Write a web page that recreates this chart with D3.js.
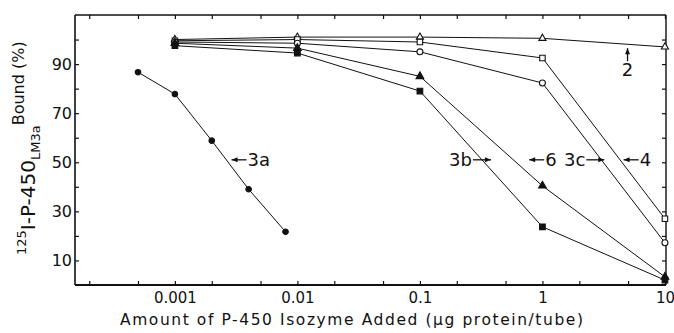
<html>
<head>
  <script src="https://cdn.jsdelivr.net/npm/d3@7"></script>
  <style>
    body { margin: 0; background: #fff; }
    text { font-family: "DejaVu Sans", sans-serif; fill: #111; }
  </style>
</head>
<body>
 <div id="content"></div>
  <script>
    // amounts added (ug protein/tube)
    const doses = [0.001, 0.01, 0.1, 1, 10]
    const doses3a = [0.0005, 0.001, 0.002, 0.004, 0.008]

    // % bound
    const bound2  = [100, 101, 101, 100.5, 97]
    const bound4  = [99.5, 100, 99, 92.5, 27]
    const bound3c = [99, 98.5, 95, 82.3, 17.2]
    const bound6  = [98.5, 96.5, 85, 40.4, 3.3]
    const bound3b = [97.5, 94.5, 79, 23.7, 2]
    const bound3a = [86.7, 77.8, 58.8, 39, 21.7]

    const xTicks = [0.0002, 0.0005, 0.001, 0.002, 0.005, 0.01, 0.02, 0.05, 0.1, 0.2, 0.5, 1, 2, 5, 10]
    const xTickLabels = ["0.001", "0.01", "0.1", "1", "10"]
    const yTicks = [10, 20, 30, 40, 50, 60, 70, 80, 90, 100]
    const yTickLabels = [10, 30, 50, 70, 90]

    // label, arrow tip (x, y in data units), arrow direction
    const curveLabels = [
      {text: "3a", x: 0.0029, y: 51, dir: "left"},
      {text: "3b", x: 0.38, y: 51, dir: "right"},
      {text: "6",  x: 0.78, y: 51, dir: "left"},
      {text: "3c", x: 3.2, y: 51, dir: "right"},
      {text: "4",  x: 4.6, y: 51, dir: "left"},
      {text: "2",  x: 4.95, y: 96.5, dir: "up"}
    ]

    width = 674
    height = 333
    margin = {top: 15, right: 8, bottom: 48, left: 75}

    const svg = d3.select("#content").append("svg")
      .attr("width", width).attr("height", height)

    x = d3.scaleLog()
      .domain([0.000153, 10.2])
      .range([margin.left, width - margin.right])
    y = d3.scaleLinear()
      .domain([0, 110])
      .range([height - margin.bottom, margin.top])

    const x0 = x.range()[0], x1 = x.range()[1]
    const y0 = y.range()[0], y1 = y.range()[1]

    // axes, ticks pointing into the plot
    svg.append("g")
      .attr("transform", `translate(0,${y0})`)
      .call(d3.axisBottom(x).tickValues(xTicks).tickSize(-4).tickPadding(7)
        .tickFormat(d => { const i = doses.indexOf(d); return i >= 0 ? xTickLabels[i] : "" }))
      .call(g => g.select(".domain").remove())
      .call(g => g.selectAll("text").attr("font-size", 15))
    svg.append("g")
      .attr("transform", `translate(0,${y1})`)
      .call(d3.axisTop(x).tickValues(xTicks).tickSize(-4).tickFormat(""))
      .call(g => g.select(".domain").remove())
    svg.append("g")
      .attr("transform", `translate(${x0},0)`)
      .call(d3.axisLeft(y).tickValues(yTicks).tickSize(-4).tickPadding(3)
        .tickFormat(d => yTickLabels.includes(d) ? d : ""))
      .call(g => g.select(".domain").remove())
      .call(g => g.selectAll("text").attr("font-size", 16))
    svg.append("g")
      .attr("transform", `translate(${x1},0)`)
      .call(d3.axisRight(y).tickValues(yTicks).tickSize(-4).tickFormat(""))
      .call(g => g.select(".domain").remove())
    svg.selectAll(".tick line").attr("stroke", "#111").attr("stroke-width", 1.2)

    // frame
    const frame = svg.append("g").attr("stroke", "#111").attr("fill", "none")
    frame.append("line").attr("x1", x0).attr("x2", x1).attr("y1", y0).attr("y2", y0).attr("stroke-width", 2)
    frame.append("line").attr("x1", x0).attr("x2", x1).attr("y1", y1).attr("y2", y1).attr("stroke-width", 1.4)
    frame.append("line").attr("x1", x0).attr("x2", x0).attr("y1", y1).attr("y2", y0).attr("stroke-width", 1.6)
    frame.append("line").attr("x1", x1).attr("x2", x1).attr("y1", y1).attr("y2", y0).attr("stroke-width", 1.4)

    const series = [
      {xs: doses, ys: bound2,  sym: d3.symbolTriangle, size: 22, filled: false},
      {xs: doses, ys: bound4,  sym: d3.symbolSquare,   size: 30, filled: false},
      {xs: doses, ys: bound3c, sym: d3.symbolCircle,   size: 28, filled: false},
      {xs: doses, ys: bound6,  sym: d3.symbolTriangle, size: 26, filled: true},
      {xs: doses, ys: bound3b, sym: d3.symbolSquare,   size: 32, filled: true},
      {xs: doses3a, ys: bound3a, sym: d3.symbolCircle, size: 24, filled: true}
    ]

    const line = d3.line().x(d => x(d[0])).y(d => y(d[1]))

    series.forEach(s => {
      const pts = s.xs.map((v, i) => [v, s.ys[i]])
      svg.append("path")
        .attr("d", line(pts))
        .attr("fill", "none")
        .attr("stroke", "#111")
        .attr("stroke-width", 1)
      svg.append("g").selectAll("path")
        .data(pts)
        .join("path")
        .attr("transform", d => `translate(${x(d[0])},${y(d[1])})`)
        .attr("d", d3.symbol().type(s.sym).size(s.size))
        .attr("fill", s.filled ? "#111" : "#fff")
        .attr("stroke", "#111")
        .attr("stroke-width", 1.1)
    })

    // curve labels with arrows
    const ann = svg.append("g")
    curveLabels.forEach(l => {
      const px = x(l.x), py = y(l.y)
      let tail, head, tx, ty, anchor
      if (l.dir == "left") {
        tail = [px + 15, py]; head = [[px, py], [px + 6, py - 2.5], [px + 6, py + 2.5]]
        tx = px + 16; ty = py + 6.5; anchor = "start"
      } else if (l.dir == "right") {
        tail = [px - 18, py]; head = [[px, py], [px - 6, py - 2.5], [px - 6, py + 2.5]]
        tx = px - 19; ty = py + 6.5; anchor = "end"
      } else {
        tail = [px, py + 13]; head = [[px, py], [px - 2.5, py + 6], [px + 2.5, py + 6]]
        tx = px; ty = py + 28; anchor = "middle"
      }
      ann.append("line")
        .attr("x1", tail[0]).attr("y1", tail[1]).attr("x2", px).attr("y2", py)
        .attr("stroke", "#111").attr("stroke-width", 1.3)
      ann.append("path")
        .attr("d", "M" + head.join("L") + "Z")
        .attr("fill", "#111")
      ann.append("text")
        .attr("x", tx).attr("y", ty)
        .attr("text-anchor", anchor)
        .attr("font-size", 18)
        .text(l.text)
    })

    // axis titles
    svg.append("text")
      .attr("x", 120).attr("y", 325)
      .attr("font-size", 15.5)
      .attr("textLength", 463)
      .attr("lengthAdjust", "spacing")
      .text("Amount of P-450 Isozyme Added  (\u03bcg protein/tube)")

    const yt = svg.append("text").attr("transform", "rotate(-90)")
    yt.append("tspan").attr("x", -255).attr("y", 26).attr("font-size", 13).text("125")
    yt.append("tspan").attr("y", 35).attr("font-size", 20).text("I-P-450")
    yt.append("tspan").attr("y", 40).attr("font-size", 13).text("LM3a")
    yt.append("tspan").attr("y", 24).attr("font-size", 16).text("Bound (%)")
  </script>
 </body>
</html>
